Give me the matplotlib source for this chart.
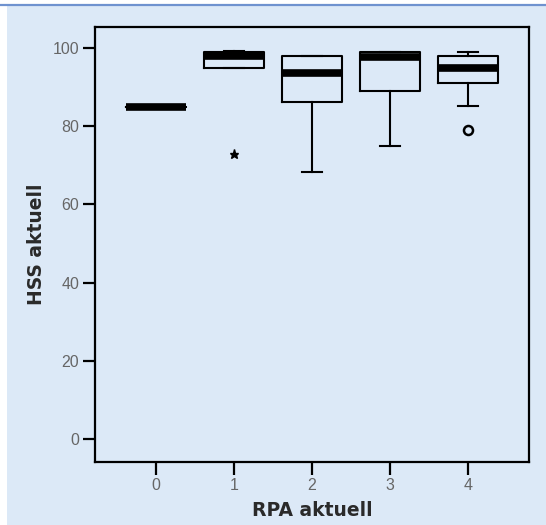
import matplotlib
matplotlib.use('Agg')
import matplotlib.pyplot as plt
from matplotlib.patches import Rectangle
from matplotlib.lines import Line2D

# RPA aktuell groups and box statistics for HSS aktuell
groups = [0, 1, 2, 3, 4]
q1 = [85.0, 95.0, 86.3, 89.0, 91.0]
med = [85.0, 98.0, 93.7, 97.8, 95.0]
q3 = [85.0, 98.9, 98.0, 99.0, 98.0]
whislo = [85.0, 95.0, 68.2, 74.9, 85.2]
whishi = [85.0, 99.2, 98.0, 99.0, 99.0]
extremes = [[], [72.9], [], [], []]   # drawn as *
outliers = [[], [], [], [], [79.0]]   # drawn as o

bg = '#dce9f7'

fig = plt.figure(figsize=(5.46, 5.25), dpi=100, facecolor='white')
fig.patches.append(Rectangle((7 / 546, 0), 1, 519 / 525, transform=fig.transFigure,
                             facecolor=bg, edgecolor='none', zorder=-2))
fig.lines.append(Line2D([0, 1], [520 / 525, 520 / 525], transform=fig.transFigure,
                        color='#6f92cf', linewidth=1.6))

ax = fig.add_axes([95 / 546, 63 / 525, 434 / 546, 435 / 525])
ax.set_facecolor(bg)

stats = []
for i in range(len(groups)):
    stats.append({'q1': q1[i], 'med': med[i], 'q3': q3[i],
                  'whislo': whislo[i], 'whishi': whishi[i], 'fliers': []})

line_kw = dict(color='black', linewidth=1.5)
ax.bxp(stats, positions=groups, widths=0.76, capwidths=0.26, showfliers=False,
       boxprops=line_kw, whiskerprops=line_kw, capprops=line_kw,
       medianprops=dict(color='black', linewidth=5.5, solid_capstyle='butt'))

for g, vals in zip(groups, extremes):
    ax.plot([g] * len(vals), vals, linestyle='none', marker='*', markersize=6.5,
            color='black')
for g, vals in zip(groups, outliers):
    ax.plot([g] * len(vals), vals, linestyle='none', marker='o', markersize=6.5,
            markerfacecolor='none', markeredgecolor='black', markeredgewidth=1.8)

ax.set_xlim(-0.78, 4.78)
ax.set_ylim(-5.9, 105.4)
ax.set_xticks(groups)
ax.set_xticklabels([str(g) for g in groups])
ax.set_yticks([0, 20, 40, 60, 80, 100])

for s in ax.spines.values():
    s.set_linewidth(1.6)
ax.tick_params(direction='out', length=9, width=1.6, labelsize=11.5,
               labelcolor='#666666', pad=2.5)
for lbl in ax.get_xticklabels() + ax.get_yticklabels():
    lbl.set_family('Liberation Sans')

ax.set_xlabel('RPA aktuell', fontsize=13.5, fontweight='bold', color='#2a2a2a',
              labelpad=6)
ax.set_ylabel('HSS aktuell', fontsize=13.5, fontweight='bold', color='#2a2a2a',
              labelpad=4.5)

fig.savefig('out.png', dpi=100, facecolor=fig.get_facecolor())
